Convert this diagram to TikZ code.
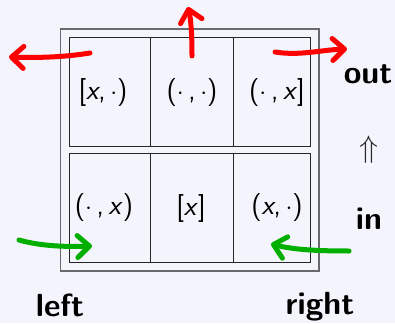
\documentclass[tikz,border=0pt]{standalone}
\usetikzlibrary{arrows.meta}
\definecolor{bg}{RGB}{244,244,252}
\definecolor{framegray}{RGB}{105,105,110}
\definecolor{myred}{RGB}{255,0,0}
\definecolor{mygreen}{RGB}{0,175,0}
\newcommand{\vx}{\textit{x}}
\begin{document}
\begin{tikzpicture}[x=1pt,y=-1pt,
  cell/.style={draw=black!85, line width=0.9pt, inner sep=0pt, minimum height=109pt},
  celltxt/.style={inner sep=0pt, font=\fontsize{28}{33}\selectfont\sffamily},
  lab/.style={inner sep=0pt, font=\fontsize{32}{38}\selectfont\sffamily\bfseries},
  redarr/.style={draw=myred, line width=5pt, line cap=round, line join=round,
    -{Straight Barb[length=12pt,width=22pt,round]}},
  greenarr/.style={draw=mygreen, line width=5pt, line cap=round, line join=round,
    -{Straight Barb[length=12pt,width=22pt,round]}}]
\fill[bg] (0,0) rectangle (395,323);
\useasboundingbox (0,0) rectangle (395,323);
% outer frame
\node[draw=framegray, line width=1.3pt, inner sep=0pt, minimum width=258.5pt, minimum height=242pt] (frame) at (189.75,150) {};
% cells top row
\node[cell, minimum width=81pt] (c11) at (109.5,92.3) {};
\node[cell, minimum width=83pt] (c12) at (191.5,92.3) {};
\node[cell, minimum width=77pt] (c13) at (271.5,92.3) {};
% cells bottom row
\node[cell, minimum width=81pt] (c21) at (109.5,207.5) {};
\node[cell, minimum width=83pt] (c22) at (191.5,207.5) {};
\node[cell, minimum width=77pt] (c23) at (271.5,207.5) {};
% cell texts
\node[celltxt] (t11) at (103,93) {[\vx,\,$\cdot$)};
\node[celltxt] (t12) at (192,93) {($\cdot$\,,\,$\cdot$)};
\node[celltxt] (t13) at (277,93) {($\cdot$\,,\,\vx]};
\node[celltxt] (t21) at (104,208) {($\cdot$\,,\,\vx)};
\node[celltxt] (t22) at (191,208) {[\vx]};
\node[celltxt] (t23) at (277,208) {(\vx,\,$\cdot$)};
% labels
\node[lab] (out) at (368,74) {out};
\node[lab] (in) at (369,219) {in};
\node[lab] (left) at (60,305) {left};
\node[lab] (right) at (320,307) {right};
\node[inner sep=0pt, text=black!85] (up) at (369,150) {\scalebox{3.1}{$\Uparrow$}};
% arrow coordinates
\coordinate (r1s) at (90,53);  \coordinate (r1e) at (9,57);
\coordinate (r2s) at (192,56); \coordinate (r2e) at (188,7);
\coordinate (r3s) at (275,52); \coordinate (r3e) at (347,49);
\coordinate (g1s) at (19,240); \coordinate (g1e) at (92,246);
\coordinate (g2s) at (349,251); \coordinate (g2e) at (271,244);
% red arrows
\draw[redarr] (r1s) .. controls (65,57) and (40,58) .. (r1e);
\draw[redarr] (r2s) .. controls (192,35) and (191,20) .. (r2e);
\draw[redarr] (r3s) .. controls (300,56) and (320,50) .. (r3e);
% green arrows
\draw[greenarr] (g1s) .. controls (40,246) and (65,247) .. (g1e);
\draw[greenarr] (g2s) .. controls (320,251) and (295,250) .. (g2e);
\end{tikzpicture}
\end{document}
